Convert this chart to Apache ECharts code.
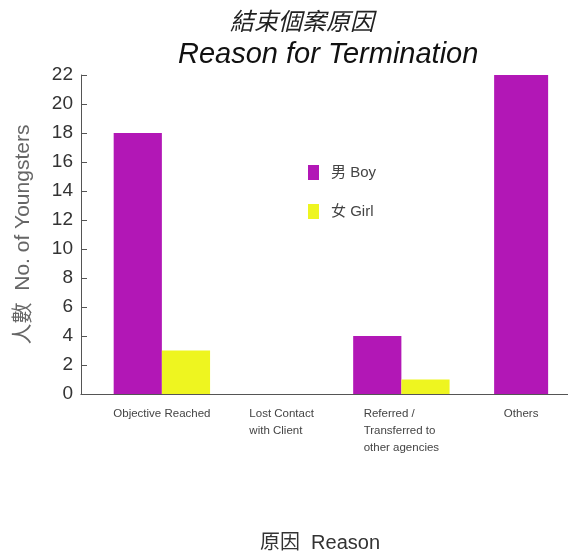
<!DOCTYPE html>
<html><head><meta charset="utf-8">
<script src="https://cdn.jsdelivr.net/npm/echarts@6/dist/echarts.min.js"></script>
<style>html,body{margin:0;padding:0;background:#fff;overflow:hidden}#c{width:568px;height:553px}</style>
</head><body><div id="c"></div>
<script>
const categories = ['Objective Reached', 'Lost Contact\nwith Client', 'Referred /\nTransferred to\nother agencies', 'Others'];
const boyValues = [18, 0, 4, 22];
const girlValues = [3, 0, 1, 0];
const yTicks = [0, 2, 4, 6, 8, 10, 12, 14, 16, 18, 20, 22];
const seriesNames = ['男 Boy', '女 Girl'];

const FONT = '"Liberation Sans", "Noto Sans CJK TC", sans-serif';
const BOY = '#b217b6';
const GIRL = '#eef520';

// Categories where only the boy value is present are drawn centred on their own axis
const soloIdx = categories.map((c, i) => (girlValues[i] === 0 && boyValues[i] > 0) ? i : -1).filter(i => i >= 0);
const boyGrouped = boyValues.map((v, i) => soloIdx.includes(i) ? '-' : v);
const boySolo = boyValues.map((v, i) => soloIdx.includes(i) ? v : '-');
const girlData = girlValues.map((v, i) => soloIdx.includes(i) ? '-' : v);

const chart = echarts.init(document.getElementById('c'), null, {renderer: 'canvas'});
chart.setOption({
  animation: false,
  backgroundColor: '#fff',
  title: [
    {text: '結束個案原因', left: 225, top: 6, textStyle: {fontFamily: FONT, fontStyle: 'italic', fontWeight: 'normal', fontSize: 24, color: '#222'}},
    {text: 'Reason for Termination', left: 173, top: 35, textStyle: {fontFamily: FONT, fontStyle: 'italic', fontWeight: 'normal', fontSize: 29, color: '#111'}}
  ],
  legend: {
    orient: 'vertical', left: 303, top: 160, itemGap: 24, itemWidth: 11, itemHeight: 15, icon: 'rect',
    data: seriesNames,
    textStyle: {fontFamily: FONT, fontSize: 15, color: '#444', padding: [0, 0, 0, 7]}
  },
  grid: {left: 102, right: -13, top: 75, bottom: 159, containLabel: false, outerBoundsMode: 'none'},
  xAxis: [{
    type: 'category', data: categories,
    name: '原因  Reason', nameLocation: 'middle', nameGap: 139,
    nameTextStyle: {fontFamily: FONT, fontSize: 20, color: '#333', padding: [0, 43, 0, 0]},
    axisLine: {lineStyle: {color: '#555', width: 1}},
    axisTick: {inside: true, length: 4, lineStyle: {color: '#555'}},
    axisLabel: {fontFamily: FONT, fontSize: 11.5, color: '#444', lineHeight: 17, margin: 11, interval: 0,
      formatter: v => v.split('\n').map(s => '{l|' + s + '}').join('\n'),
      rich: {l: {align: 'left', fontFamily: FONT, fontSize: 11.5, color: '#444', lineHeight: 17}}}
  }, {
    type: 'category', data: categories, show: false
  }],
  yAxis: {
    type: 'value', min: 0, max: 22, interval: 2, offset: 21,
    name: '人數  No. of Youngsters', nameLocation: 'middle', nameGap: 47, nameRotate: 90,
    nameTextStyle: {fontFamily: FONT, fontSize: 21, color: '#666'},
    axisLine: {show: true, lineStyle: {color: '#555', width: 1}},
    axisTick: {show: true, inside: true, length: 6, lineStyle: {color: '#555'}},
    axisLabel: {fontFamily: FONT, fontSize: 19, color: '#333', margin: 8,
      formatter: v => yTicks.includes(v) ? String(v) : ''},
    splitLine: {show: false}
  },
  series: [
    {name: seriesNames[0], type: 'bar', data: boyGrouped, itemStyle: {color: BOY}, barGap: '0%', barCategoryGap: '19.5%'},
    {name: seriesNames[1], type: 'bar', data: girlData, itemStyle: {color: GIRL}},
    {name: seriesNames[0], type: 'bar', xAxisIndex: 1, data: boySolo, itemStyle: {color: BOY}, barWidth: 54}
  ]
});
// extend the x-axis baseline left to meet the offset y-axis
const y0 = Math.round(chart.convertToPixel({yAxisIndex: 0}, 0)) + 0.5;
const gl = chart.convertToPixel({xAxisIndex: 0}, 0) - chart.getModel().getComponent('xAxis', 0).axis.getBandWidth() / 2;
chart.setOption({graphic: [{type: 'line', shape: {x1: Math.round(gl) - 21.5, y1: y0, x2: Math.round(gl) + 1, y2: y0}, style: {stroke: '#555', lineWidth: 1}, z: 10}]});
</script></body></html>
